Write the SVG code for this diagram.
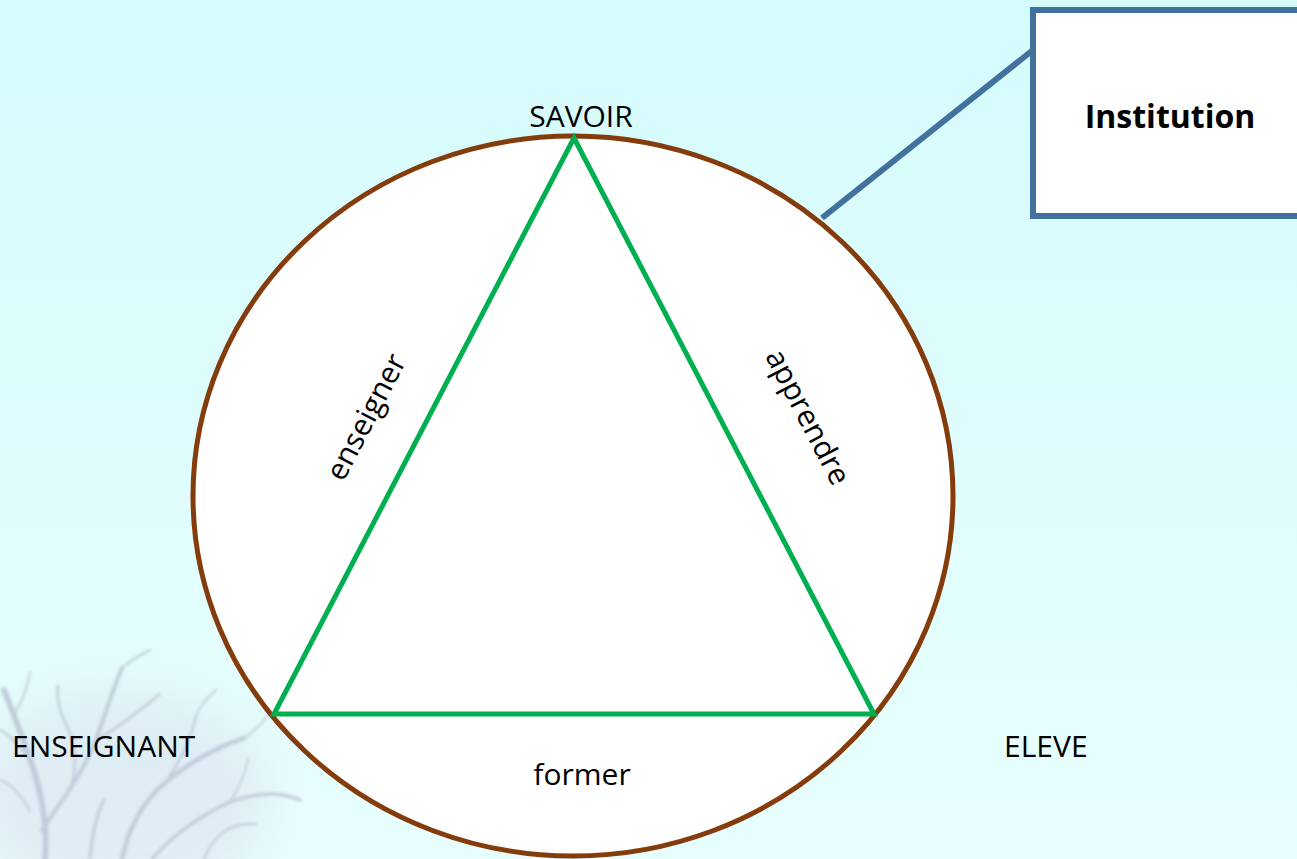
<svg xmlns="http://www.w3.org/2000/svg" width="1297" height="859" viewBox="0 0 1297 859">
  <defs>
    <linearGradient id="bg" x1="0" y1="0" x2="0" y2="1">
      <stop offset="0" stop-color="#d5fbfc"/>
      <stop offset="1" stop-color="#e8fefe"/>
    </linearGradient>
    <filter id="blur" x="-20%" y="-20%" width="140%" height="140%">
      <feGaussianBlur stdDeviation="1.8"/>
    </filter>
    <filter id="blur2" x="-30%" y="-30%" width="160%" height="160%">
      <feGaussianBlur stdDeviation="25"/>
    </filter>
  </defs>
  <style>
    .lbl { font-family: "Open Sans", "Liberation Sans", sans-serif; font-size: 30px; fill: #000; }
    .bold { font-weight: bold; font-size: 32px; }
    .br { fill: none; stroke: #8c84a6; stroke-linecap: round; }
  </style>
  <rect id="background" x="0" y="0" width="1297" height="859" fill="url(#bg)"/>
  <g id="tree" opacity="0.4">
    <ellipse cx="120" cy="800" rx="150" ry="110" fill="#cfcbe0" opacity="0.8" filter="url(#blur2)"/>
    <g filter="url(#blur)">
      <path class="br" d="M45 859 C48 825 42 795 32 765 C24 740 14 715 4 690" stroke-width="6"/>
      <path class="br" d="M42 830 C62 800 82 775 96 740 C106 712 112 692 122 668" stroke-width="4"/>
      <path class="br" d="M96 740 C118 728 138 712 160 694" stroke-width="2.5"/>
      <path class="br" d="M122 668 C130 660 140 655 150 650" stroke-width="2"/>
      <path class="br" d="M32 765 C22 748 12 736 0 730" stroke-width="2.5"/>
      <path class="br" d="M14 715 C22 700 28 688 30 672" stroke-width="2"/>
      <path class="br" d="M70 790 C78 768 76 746 66 724 C60 712 56 700 58 686" stroke-width="2.5"/>
      <path class="br" d="M122 859 C128 830 142 802 166 782 C190 762 214 748 244 738" stroke-width="4.5"/>
      <path class="br" d="M166 782 C180 762 190 742 196 716" stroke-width="2.5"/>
      <path class="br" d="M196 716 C200 705 208 698 216 690" stroke-width="1.8"/>
      <path class="br" d="M152 859 C172 836 200 816 230 802 C258 792 282 792 300 800" stroke-width="3.5"/>
      <path class="br" d="M204 859 C212 838 228 822 256 824" stroke-width="2.5"/>
      <path class="br" d="M244 738 C256 730 266 720 272 708" stroke-width="1.8"/>
      <path class="br" d="M90 859 C92 835 96 815 104 800" stroke-width="3"/>
      <path class="br" d="M230 802 C240 786 246 772 248 758" stroke-width="1.8"/>
      <path class="br" d="M0 780 C12 784 22 796 30 812" stroke-width="2"/>
    </g>
  </g>
  <g id="connectors">
    <line x1="822" y1="218" x2="1033" y2="50" stroke="#41719c" stroke-width="6"/>
  </g>
  <g id="circle">
    <ellipse cx="573" cy="496" rx="380" ry="360" fill="#ffffff" stroke="#843c0c" stroke-width="5"/>
  </g>
  <g id="triangle">
    <polygon points="574,138 274,714 874,714" fill="none" stroke="#00b050" stroke-width="5" stroke-linejoin="miter"/>
  </g>
  <g id="institution">
    <rect x="1033" y="10" width="290" height="206" fill="#ffffff" stroke="#41719c" stroke-width="6"/>
    <text class="lbl bold" x="1170" y="128" text-anchor="middle">Institution</text>
  </g>
  <g id="savoir">
    <text class="lbl" x="581" y="127" text-anchor="middle">SAVOIR</text>
  </g>
  <g id="enseignant">
    <text class="lbl" x="12" y="757">ENSEIGNANT</text>
  </g>
  <g id="eleve">
    <text class="lbl" x="1004" y="757">ELEVE</text>
  </g>
  <g id="labels">
    <text class="lbl" transform="translate(368,418) rotate(-62.5)" x="0" y="8" text-anchor="middle">enseigner</text>
    <text class="lbl" transform="translate(806,418) rotate(62.5)" x="0" y="8" text-anchor="middle">apprendre</text>
    <text class="lbl" x="582" y="785" text-anchor="middle">former</text>
  </g>
</svg>
